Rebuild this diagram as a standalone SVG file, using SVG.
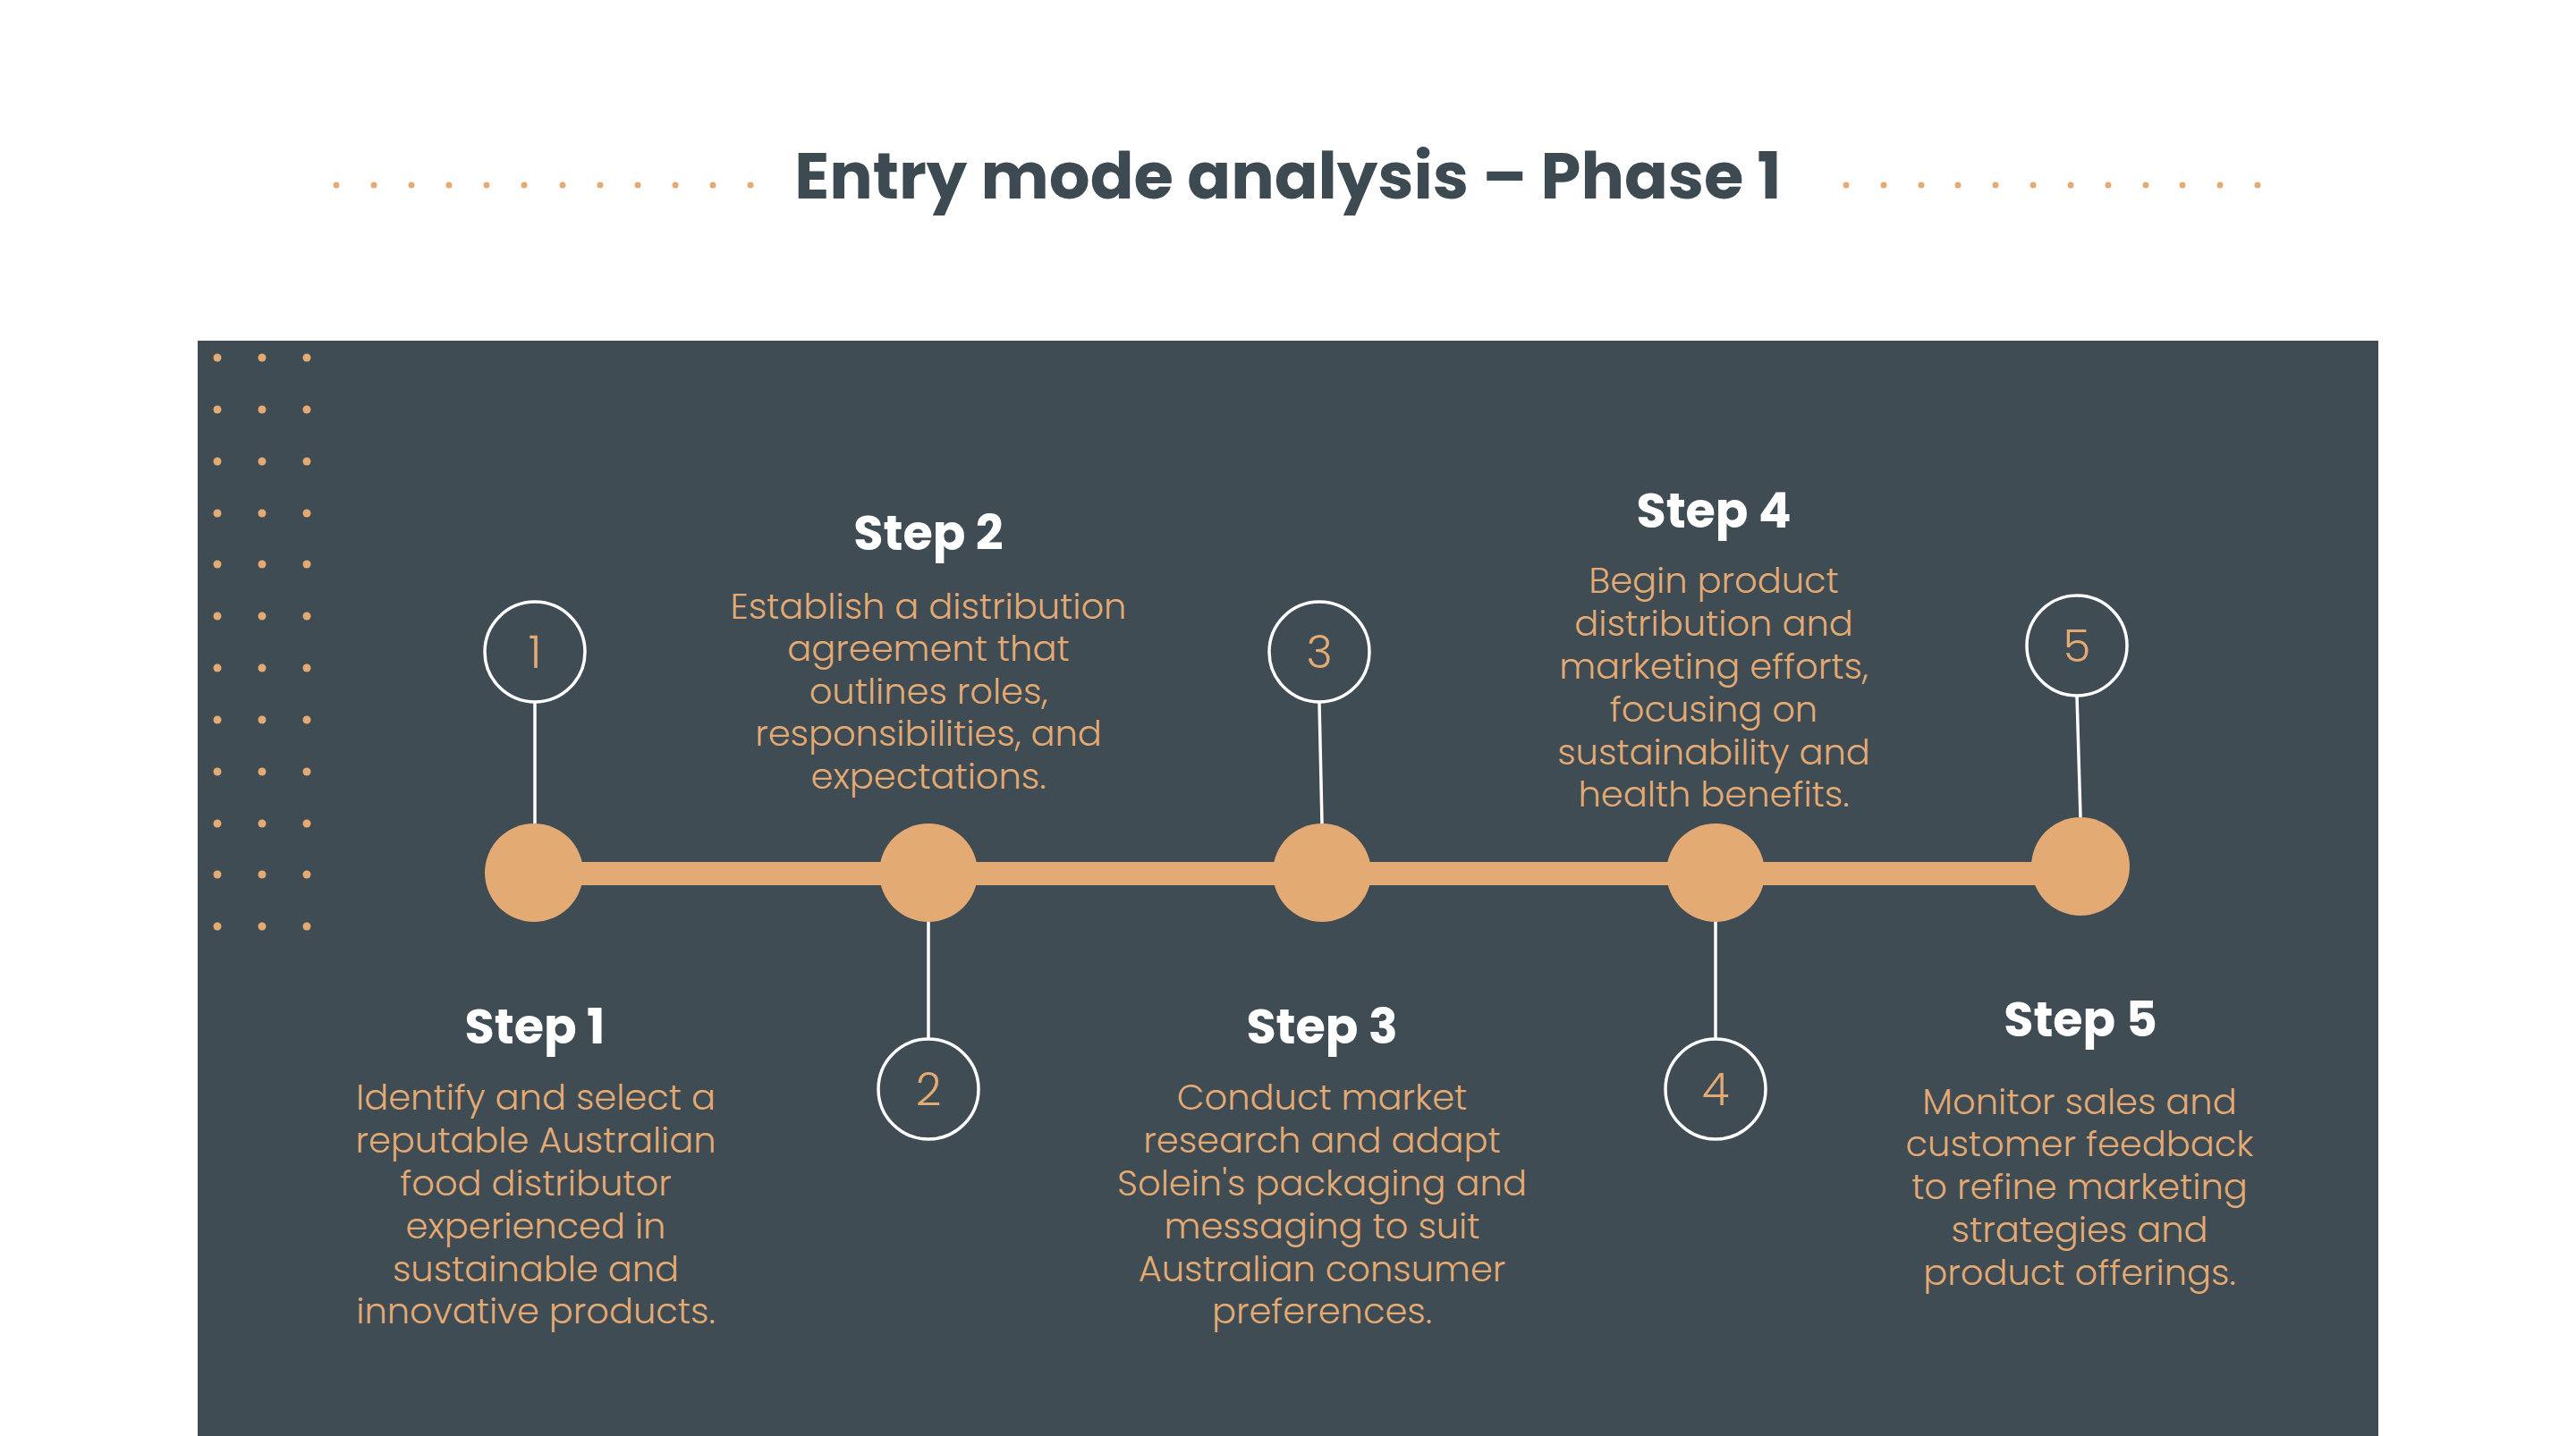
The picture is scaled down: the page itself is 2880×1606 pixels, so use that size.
<svg xmlns="http://www.w3.org/2000/svg" width="2880" height="1606" viewBox="0 0 2880 1606">
<defs>
<style>
.title{font-family:"Poppins","Open Sans","Liberation Sans",sans-serif;font-weight:700;font-size:72px;fill:#3d4a51;text-anchor:middle}
.head{font-family:"Poppins","Open Sans","Liberation Sans",sans-serif;font-weight:700;font-size:54px;fill:#ffffff;text-anchor:middle}
.body{font-family:"Poppins","Open Sans","Liberation Sans",sans-serif;font-weight:300;font-size:40px;fill:#e4aa73;text-anchor:middle}
.num{font-family:"Poppins","Open Sans","Liberation Sans",sans-serif;font-weight:300;font-size:50px;fill:#e4aa73;text-anchor:middle}
.ring{fill:none;stroke:#ffffff;stroke-width:3.5}
.big{fill:#e4aa73}
.stem{stroke:#ffffff;stroke-width:3.5}
.dot{fill:#e4aa73}
</style>
</defs>
<rect width="2880" height="1606" fill="#ffffff"/>
<g id="title">
<text class="title" x="1440" y="222">Entry mode analysis – Phase 1</text>
<g id="title-dots-left">
<circle class="dot" cx="376" cy="207" r="3.5"/><circle class="dot" cx="418" cy="207" r="3.5"/><circle class="dot" cx="460" cy="207" r="3.5"/><circle class="dot" cx="502" cy="207" r="3.5"/><circle class="dot" cx="544" cy="207" r="3.5"/><circle class="dot" cx="586" cy="207" r="3.5"/><circle class="dot" cx="629" cy="207" r="3.5"/><circle class="dot" cx="671" cy="207" r="3.5"/><circle class="dot" cx="713" cy="207" r="3.5"/><circle class="dot" cx="755" cy="207" r="3.5"/><circle class="dot" cx="797" cy="207" r="3.5"/><circle class="dot" cx="839" cy="207" r="3.5"/>
</g>
<g id="title-dots-right">
<circle class="dot" cx="2064" cy="207" r="3.5"/><circle class="dot" cx="2106" cy="207" r="3.5"/><circle class="dot" cx="2148" cy="207" r="3.5"/><circle class="dot" cx="2189" cy="207" r="3.5"/><circle class="dot" cx="2231" cy="207" r="3.5"/><circle class="dot" cx="2273" cy="207" r="3.5"/><circle class="dot" cx="2315" cy="207" r="3.5"/><circle class="dot" cx="2357" cy="207" r="3.5"/><circle class="dot" cx="2399" cy="207" r="3.5"/><circle class="dot" cx="2440" cy="207" r="3.5"/><circle class="dot" cx="2482" cy="207" r="3.5"/><circle class="dot" cx="2524" cy="207" r="3.5"/>
</g>
</g>
<rect id="panel" x="221" y="381" width="2438" height="1225" fill="#3f4c53"/>
<g id="dot-grid">
<circle class="dot" cx="243" cy="400" r="4.5"/><circle class="dot" cx="293" cy="400" r="4.5"/><circle class="dot" cx="343" cy="400" r="4.5"/>
<circle class="dot" cx="243" cy="458" r="4.5"/><circle class="dot" cx="293" cy="458" r="4.5"/><circle class="dot" cx="343" cy="458" r="4.5"/>
<circle class="dot" cx="243" cy="516" r="4.5"/><circle class="dot" cx="293" cy="516" r="4.5"/><circle class="dot" cx="343" cy="516" r="4.5"/>
<circle class="dot" cx="243" cy="574" r="4.5"/><circle class="dot" cx="293" cy="574" r="4.5"/><circle class="dot" cx="343" cy="574" r="4.5"/>
<circle class="dot" cx="243" cy="631" r="4.5"/><circle class="dot" cx="293" cy="631" r="4.5"/><circle class="dot" cx="343" cy="631" r="4.5"/>
<circle class="dot" cx="243" cy="689" r="4.5"/><circle class="dot" cx="293" cy="689" r="4.5"/><circle class="dot" cx="343" cy="689" r="4.5"/>
<circle class="dot" cx="243" cy="747" r="4.5"/><circle class="dot" cx="293" cy="747" r="4.5"/><circle class="dot" cx="343" cy="747" r="4.5"/>
<circle class="dot" cx="243" cy="805" r="4.5"/><circle class="dot" cx="293" cy="805" r="4.5"/><circle class="dot" cx="343" cy="805" r="4.5"/>
<circle class="dot" cx="243" cy="863" r="4.5"/><circle class="dot" cx="293" cy="863" r="4.5"/><circle class="dot" cx="343" cy="863" r="4.5"/>
<circle class="dot" cx="243" cy="921" r="4.5"/><circle class="dot" cx="293" cy="921" r="4.5"/><circle class="dot" cx="343" cy="921" r="4.5"/>
<circle class="dot" cx="243" cy="978" r="4.5"/><circle class="dot" cx="293" cy="978" r="4.5"/><circle class="dot" cx="343" cy="978" r="4.5"/>
<circle class="dot" cx="243" cy="1036" r="4.5"/><circle class="dot" cx="293" cy="1036" r="4.5"/><circle class="dot" cx="343" cy="1036" r="4.5"/>
</g>
<g id="connectors">
<rect x="597" y="964" width="1729" height="26" fill="#e4aa73"/>
<line class="stem" x1="598" y1="786" x2="598" y2="921"/>
<line class="stem" x1="1038" y1="1031" x2="1038" y2="1162"/>
<line class="stem" x1="1475" y1="786" x2="1478" y2="921"/>
<line class="stem" x1="1918" y1="1031" x2="1918" y2="1162"/>
<line class="stem" x1="2322" y1="778" x2="2326" y2="914"/>
</g>
<g id="step1">
<circle class="big" cx="597" cy="976" r="55"/>
<circle class="ring" cx="598" cy="729" r="56"/>
<text class="num" x="598" y="747">1</text>
<text class="head" x="598" y="1167">Step 1</text>
<text class="body" x="599"><tspan x="599" y="1241">Identify and select a</tspan><tspan x="599" y="1289">reputable Australian</tspan><tspan x="599" y="1337">food distributor</tspan><tspan x="599" y="1385">experienced in</tspan><tspan x="599" y="1433">sustainable and</tspan><tspan x="599" y="1480">innovative products.</tspan></text>
</g>
<g id="step2">
<circle class="big" cx="1038" cy="976" r="55"/>
<circle class="ring" cx="1038" cy="1218" r="56"/>
<text class="num" x="1038" y="1236">2</text>
<text class="head" x="1038" y="615">Step 2</text>
<text class="body" x="1038"><tspan x="1038" y="692">Establish a distribution</tspan><tspan x="1038" y="739">agreement that</tspan><tspan x="1038" y="787">outlines roles,</tspan><tspan x="1038" y="834">responsibilities, and</tspan><tspan x="1038" y="882">expectations.</tspan></text>
</g>
<g id="step3">
<circle class="big" cx="1478" cy="976" r="55"/>
<circle class="ring" cx="1475" cy="729" r="56"/>
<text class="num" x="1475" y="747">3</text>
<text class="head" x="1478" y="1167">Step 3</text>
<text class="body" x="1478"><tspan x="1478" y="1241">Conduct market</tspan><tspan x="1478" y="1289">research and adapt</tspan><tspan x="1478" y="1337">Solein's packaging and</tspan><tspan x="1478" y="1385">messaging to suit</tspan><tspan x="1478" y="1433">Australian consumer</tspan><tspan x="1478" y="1480">preferences.</tspan></text>
</g>
<g id="step4">
<circle class="big" cx="1918" cy="976" r="55"/>
<circle class="ring" cx="1918" cy="1218" r="56"/>
<text class="num" x="1918" y="1236">4</text>
<text class="head" x="1916" y="590">Step 4</text>
<text class="body" x="1916"><tspan x="1916" y="663">Begin product</tspan><tspan x="1916" y="711">distribution and</tspan><tspan x="1916" y="759">marketing efforts,</tspan><tspan x="1916" y="807">focusing on</tspan><tspan x="1916" y="855">sustainability and</tspan><tspan x="1916" y="902">health benefits.</tspan></text>
</g>
<g id="step5">
<circle class="big" cx="2326" cy="969" r="55"/>
<circle class="ring" cx="2322" cy="722" r="56"/>
<text class="num" x="2322" y="740">5</text>
<text class="head" x="2326" y="1159">Step 5</text>
<text class="body" x="2325"><tspan x="2325" y="1246">Monitor sales and</tspan><tspan x="2325" y="1293">customer feedback</tspan><tspan x="2325" y="1341">to refine marketing</tspan><tspan x="2325" y="1389">strategies and</tspan><tspan x="2325" y="1437">product offerings.</tspan></text>
</g>
</svg>
